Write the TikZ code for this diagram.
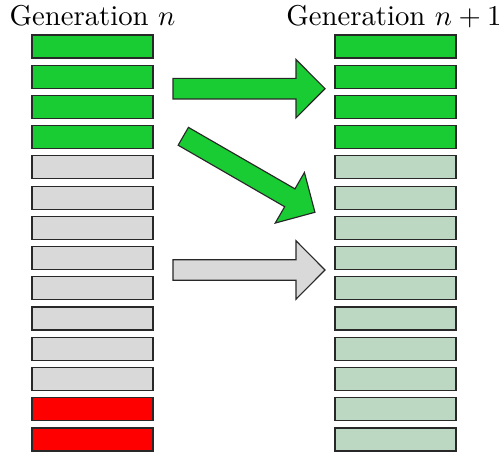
\documentclass[tikz,border=0pt]{standalone}
\definecolor{gengreen}{RGB}{26,204,51}
\definecolor{genpale}{RGB}{188,216,194}
\definecolor{gengray}{RGB}{217,217,217}
\definecolor{genred}{RGB}{255,0,0}
\definecolor{genline}{RGB}{40,40,40}
\begin{document}
\begin{tikzpicture}[x=0.3484pt,y=-0.3484pt,
  bar/.style={draw=genline,line width=0.4pt,inner sep=0pt,minimum width=42.16pt,minimum height=8.01pt},
  bigarrow/.pic={\draw[pic actions] (0,-10.3) -- (123,-10.3) -- (123,-29.2) -- (152,0) -- (123,29.2) -- (123,10.3) -- (0,10.3) -- cycle;},
  arr/.style={draw=genline,line width=0.4pt,line join=miter}]
\useasboundingbox (0,0) rectangle (504,454);
\foreach \i in {0,...,13}{
  \pgfmathsetmacro{\yy}{46.5+30.23*\i}
  \ifnum\i<4
    \node[bar,fill=gengreen] (L\i) at (92.5,\yy) {};
    \node[bar,fill=gengreen] (R\i) at (395.5,\yy) {};
  \else
    \ifnum\i<12
      \node[bar,fill=gengray] (L\i) at (92.5,\yy) {};
    \else
      \node[bar,fill=genred] (L\i) at (92.5,\yy) {};
    \fi
    \node[bar,fill=genpale] (R\i) at (395.5,\yy) {};
  \fi
}
\node[anchor=base] (tl) at (92.5,25.5) {Generation $n$};
\node[anchor=base] (tr) at (394,25.5) {Generation $n+1$};
\pic[arr,fill=gengreen] (a1) at (173,88.7) {bigarrow};
\pic[arr,fill=gengreen,rotate=-30] (a2) at (183.3,136.3) {bigarrow};
\pic[arr,fill=gengray] (a3) at (173,270) {bigarrow};
\end{tikzpicture}
\end{document}
